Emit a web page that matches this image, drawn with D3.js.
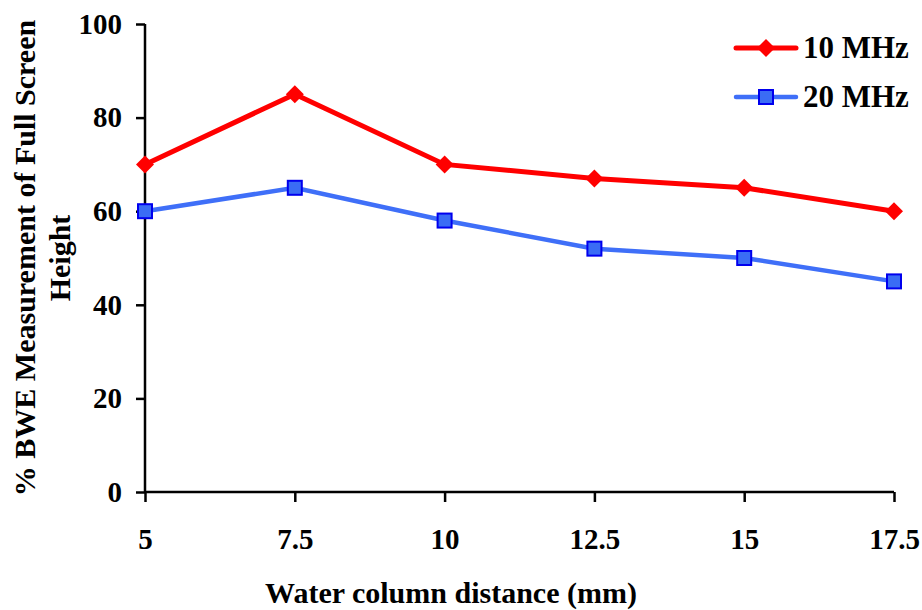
<!DOCTYPE html>
<html>
<head>
<meta charset="utf-8">
<script src="https://cdn.jsdelivr.net/npm/d3@7"></script>
<style>
  body { margin: 0; background: #fff; }
  text { font-family: "Liberation Serif", "Times New Roman", serif; font-weight: bold; }
</style>
</head>
<body>
<div id="chart"></div>
<script>
// 数据
const distances = [5, 7.5, 10, 12.5, 15, 17.5];
const mhz10 = [70, 85, 70, 67, 65, 60];
const mhz20 = [60, 65, 58, 52, 50, 45];
const yTicks = [0, 20, 40, 60, 80, 100];
const seriesNames = ["10 MHz", "20 MHz"];

const width = 922, height = 610;
const margin = { top: 24, right: 28, bottom: 118, left: 145 };

const svg = d3.select("#chart").append("svg")
    .attr("width", width)
    .attr("height", height);

const x = d3.scaleLinear().domain([5, 17.5]).range([margin.left, width - margin.right]);
const y = d3.scaleLinear().domain([0, 100]).range([height - margin.bottom, margin.top]);

// 坐标轴
const xAxis = svg.append("g")
    .attr("transform", `translate(0,${y(0)})`)
    .call(d3.axisBottom(x).tickValues(distances).tickSize(10).tickPadding(26).tickFormat(d3.format("")));
const yAxis = svg.append("g")
    .attr("transform", `translate(${x(5)},0)`)
    .call(d3.axisLeft(y).tickValues(yTicks).tickSize(9).tickPadding(14));

[xAxis, yAxis].forEach(ax => {
    ax.select(".domain").attr("stroke", "#000").attr("stroke-width", 2.5);
    ax.selectAll(".tick line").attr("stroke", "#000").attr("stroke-width", 2.5);
    ax.selectAll(".tick text")
        .attr("fill", "#000")
        .style("font-size", "29px")
        .style("font-family", "'Liberation Serif', serif")
        .style("font-weight", "bold");
});
xAxis.selectAll(".domain").attr("d", `M${x(5)},0H${x(17.5)}`);
yAxis.selectAll(".domain").attr("d", `M0,${y(0)}V${y(100)}`);

// 线条
const line = d3.line().x((d, i) => x(distances[i])).y(d => y(d));

svg.append("path").datum(mhz20)
    .attr("fill", "none").attr("stroke", "#3f6ff8").attr("stroke-width", 4.5)
    .attr("d", line);
svg.append("path").datum(mhz10)
    .attr("fill", "none").attr("stroke", "#ff0000").attr("stroke-width", 5)
    .attr("d", line);

const diamond = (cx, cy, r) => `M${cx},${cy - r}L${cx + r},${cy}L${cx},${cy + r}L${cx - r},${cy}Z`;

svg.selectAll(".m20").data(mhz20).join("rect")
    .attr("x", (d, i) => x(distances[i]) - 7)
    .attr("y", d => y(d) - 7)
    .attr("width", 14).attr("height", 14)
    .attr("fill", "#3a6cf5").attr("stroke", "#0000ee").attr("stroke-width", 2);

svg.selectAll(".m10").data(mhz10).join("path")
    .attr("d", (d, i) => diamond(x(distances[i]), y(d), 9))
    .attr("fill", "#ff0000");

// 图例
const legend = svg.append("g");
const legendY = [48, 97];
legendY.forEach((ly, i) => {
    const color = i === 0 ? "#ff0000" : "#3f6ff8";
    legend.append("line").attr("x1", 736).attr("x2", 796).attr("y1", ly).attr("y2", ly)
        .attr("stroke", color).attr("stroke-width", i === 0 ? 5 : 4.5).attr("stroke-linecap", "round");
    if (i === 0) {
        legend.append("path").attr("d", diamond(766, ly, 9)).attr("fill", "#ff0000");
    } else {
        legend.append("rect").attr("x", 759).attr("y", ly - 7).attr("width", 14).attr("height", 14)
            .attr("fill", "#3a6cf5").attr("stroke", "#0000ee").attr("stroke-width", 2);
    }
    legend.append("text").attr("x", 803).attr("y", ly + 10)
        .style("font-size", "31px").attr("fill", "#000")
        .text(seriesNames[i]);
});

// 标题
svg.append("text")
    .attr("x", 451).attr("y", 603)
    .attr("text-anchor", "middle")
    .style("font-size", "30px")
    .text("Water column distance (mm)");

const yTitle = svg.append("text")
    .attr("transform", `translate(0,${(y(0) + y(100)) / 2}) rotate(-90)`)
    .attr("text-anchor", "middle")
    .style("font-size", "30px");
yTitle.append("tspan").attr("x", 0).attr("y", 35).text("% BWE Measurement of Full Screen");
yTitle.append("tspan").attr("x", 0).attr("y", 70).text("Height");
</script>
</body>
</html>
